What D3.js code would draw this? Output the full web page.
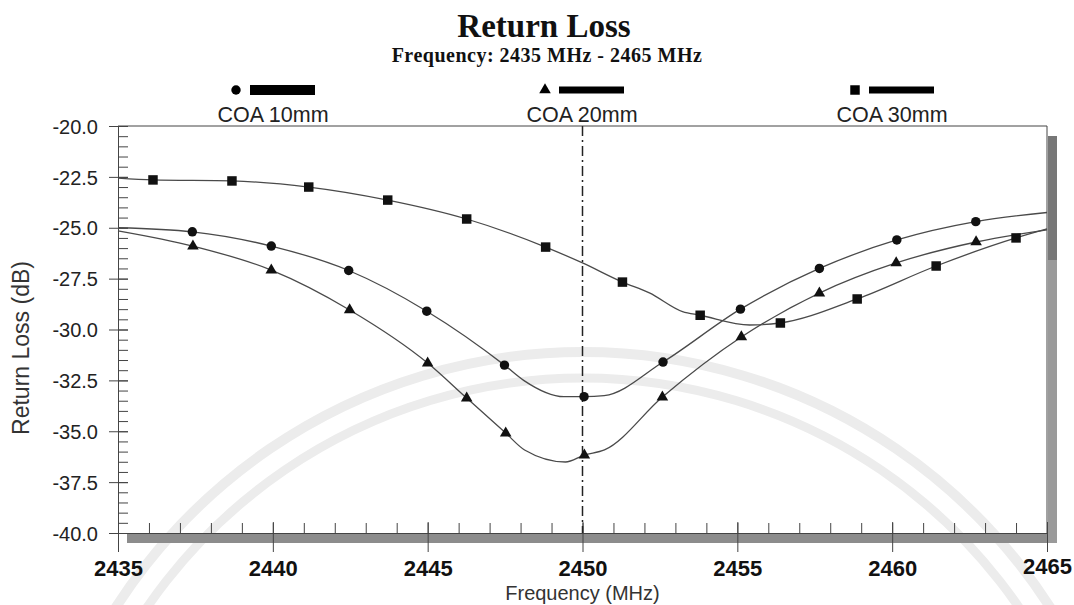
<!DOCTYPE html>
<html>
<head>
<meta charset="utf-8">
<script src="https://cdn.jsdelivr.net/npm/d3@7"></script>
<style>
  body { margin: 0; background: #fff; }
</style>
</head>
<body>
<div id="chart"></div>
<script>
// values
var seriesNames = ["COA 10mm", "COA 20mm", "COA 30mm"];

var coa10Freq = [2435, 2437.4, 2439.95, 2442.45, 2444.97, 2447.48, 2448.1, 2449.4, 2450.05, 2450.7, 2452.6, 2455.1, 2457.65, 2460.15, 2462.7, 2465];
var coa10Loss = [-25.0, -25.2, -25.9, -27.1, -29.1, -31.75, -32.5, -33.3, -33.3, -33.25, -31.6, -29.0, -27.0, -25.6, -24.7, -24.25];
var coa10Mark = [0, 1, 1, 1, 1, 1, 0, 0, 1, 0, 1, 1, 1, 1, 1, 0];

var coa20Freq = [2435, 2437.42, 2439.95, 2442.48, 2445.0, 2446.26, 2447.52, 2448.13, 2449.45, 2450.06, 2450.71, 2452.58, 2455.13, 2457.65, 2460.13, 2462.71, 2465];
var coa20Loss = [-25.15, -25.9, -27.08, -29.04, -31.65, -33.37, -35.09, -35.92, -36.51, -36.17, -35.92, -33.32, -30.37, -28.21, -26.73, -25.7, -25.1];
var coa20Mark = [0, 1, 1, 1, 1, 1, 1, 0, 0, 1, 0, 1, 1, 1, 1, 1, 0];

var coa30Freq = [2435, 2436.13, 2438.68, 2441.16, 2443.71, 2446.26, 2448.81, 2450.0, 2451.29, 2452.16, 2453.23, 2453.8, 2455.4, 2456.39, 2458.87, 2461.42, 2464.0, 2465];
var coa30Loss = [-22.56, -22.65, -22.7, -23.0, -23.64, -24.57, -25.95, -26.73, -27.67, -28.2, -29.12, -29.3, -29.78, -29.68, -28.5, -26.88, -25.5, -25.06];
var coa30Mark = [0, 1, 1, 1, 1, 1, 1, 0, 1, 0, 0, 1, 0, 1, 1, 1, 1, 0];

var xMajor = [2435, 2440, 2445, 2450, 2455, 2460, 2465];
var yMajor = [-20, -22.5, -25, -27.5, -30, -32.5, -35, -37.5, -40];
var markerLine = 2450;

var width = 1074, height = 605;
var plot = { left: 118, right: 1047, top: 126, bottom: 533 };

var svg = d3.select("#chart")
    .append("svg")
    .attr("width", width)
    .attr("height", height)
    .style("font-family", "'Liberation Sans', Arial, sans-serif");

var x = d3.scaleLinear().domain([2435, 2465]).range([plot.left, plot.right]);
var y = d3.scaleLinear().domain([-40, -20]).range([plot.bottom, plot.top]);

// faint watermark arcs in the background
var wm = svg.append("g").attr("fill", "none").attr("stroke", "#ececec");
[[555, 10], [529, 9]].forEach(function (a) {
    wm.append("path")
        .attr("transform", "translate(583,907)")
        .attr("stroke-width", a[1])
        .attr("d", d3.arc()({ innerRadius: a[0], outerRadius: a[0], startAngle: -1.2, endAngle: 1.2 }));
});

// grey drop shadow behind the frame
svg.append("rect")
    .attr("x", plot.left + 9).attr("y", plot.bottom + 1)
    .attr("width", plot.right - plot.left + 1).attr("height", 9)
    .attr("fill", "#8c8c8c");
svg.append("rect")
    .attr("x", plot.right + 1).attr("y", plot.top + 10)
    .attr("width", 9).attr("height", 124)
    .attr("fill", "#777");
svg.append("rect")
    .attr("x", plot.right + 1).attr("y", plot.top + 134)
    .attr("width", 9).attr("height", plot.bottom - plot.top - 124)
    .attr("fill", "#9a9a9a");

// frame: top and right borders
svg.append("line")
    .attr("x1", plot.left).attr("x2", plot.right)
    .attr("y1", plot.top).attr("y2", plot.top)
    .attr("stroke", "#444");
svg.append("line")
    .attr("x1", plot.right).attr("x2", plot.right)
    .attr("y1", plot.top).attr("y2", plot.bottom)
    .attr("stroke", "#444");

// Y axis
var yMinor = d3.range(-40, -19.99, 0.5);
svg.append("g")
    .attr("transform", "translate(" + plot.left + ",0)")
    .call(d3.axisRight(y).tickValues(yMinor).tickSize(10).tickFormat(""))
    .call(g => g.select(".domain").remove())
    .call(g => g.selectAll(".tick line").attr("stroke", "#444"));

var yAxis = svg.append("g")
    .attr("transform", "translate(" + plot.left + ",0)")
    .call(d3.axisLeft(y).tickValues(yMajor).tickSize(9).tickSizeOuter(0)
        .tickFormat(d => d.toFixed(1)));
yAxis.select(".domain").attr("stroke", "#444");
yAxis.selectAll(".tick line").attr("x1", 10).attr("stroke", "#444");
yAxis.selectAll(".tick text")
    .attr("x", -20)
    .attr("dy", "0.36em")
    .style("font-size", "20px")
    .style("font-family", "'Liberation Sans', Arial, sans-serif")
    .attr("fill", "#222");

// X axis
var xMinor = d3.range(2435, 2466, 1);
svg.append("g")
    .attr("transform", "translate(0," + plot.bottom + ")")
    .call(d3.axisTop(x).tickValues(xMinor).tickSize(10).tickFormat(""))
    .call(g => g.select(".domain").remove())
    .call(g => g.selectAll(".tick line").attr("stroke", "#444"));

var xAxis = svg.append("g")
    .attr("transform", "translate(0," + plot.bottom + ")")
    .call(d3.axisBottom(x).tickValues(xMajor).tickSize(19).tickSizeOuter(0)
        .tickFormat(d3.format("d")));
xAxis.select(".domain").attr("stroke", "#444");
xAxis.selectAll(".tick line").attr("y1", -11).attr("stroke", "#444");
xAxis.selectAll(".tick text")
    .attr("y", d => d === 2465 ? 41 : 43)
    .attr("dy", 0)
    .style("font-size", "22px")
    .style("font-weight", "bold")
    .style("font-family", "'Liberation Sans', Arial, sans-serif")
    .attr("fill", "#111");

// axis titles
svg.append("text")
    .attr("x", (plot.left + plot.right) / 2)
    .attr("y", 600)
    .attr("text-anchor", "middle")
    .style("font-size", "20px")
    .attr("fill", "#333")
    .text("Frequency (MHz)");

svg.append("text")
    .attr("transform", "translate(29," + 348 + ") rotate(-90)")
    .attr("text-anchor", "middle")
    .style("font-size", "23px")
    .attr("fill", "#333")
    .text("Return Loss (dB)");

// dash-dot marker line at 2450 MHz
svg.append("line")
    .attr("x1", x(markerLine)).attr("x2", x(markerLine))
    .attr("y1", plot.top).attr("y2", plot.bottom)
    .attr("stroke", "#222")
    .attr("stroke-width", 1.5)
    .attr("stroke-dasharray", "10,4,2,4");

// curves
var series = [
    { name: seriesNames[0], freq: coa10Freq, loss: coa10Loss, mark: coa10Mark, symbol: d3.symbolCircle, size: 70 },
    { name: seriesNames[1], freq: coa20Freq, loss: coa20Loss, mark: coa20Mark, symbol: d3.symbolTriangle, size: 58 },
    { name: seriesNames[2], freq: coa30Freq, loss: coa30Loss, mark: coa30Mark, symbol: d3.symbolSquare, size: 90 }
];

var line = d3.line()
    .x(d => x(d[0]))
    .y(d => y(d[1]))
    .curve(d3.curveMonotoneX);

series.forEach(function (s) {
    var pts = s.freq.map((f, i) => [f, s.loss[i], s.mark[i]]);
    svg.append("path")
        .datum(pts)
        .attr("d", line)
        .attr("fill", "none")
        .attr("stroke", "#4a4a4a")
        .attr("stroke-width", 1.3);
    svg.append("g")
        .selectAll("path")
        .data(pts.filter(p => p[2]))
        .enter()
        .append("path")
        .attr("transform", d => "translate(" + x(d[0]) + "," + y(d[1]) + ")")
        .attr("d", d3.symbol().type(s.symbol).size(s.size))
        .attr("fill", "#111");
});

// legend
var legendX = [236, 545, 855];
var barThick = [10, 7, 7];
series.forEach(function (s, i) {
    var g = svg.append("g");
    g.append("path")
        .attr("transform", "translate(" + legendX[i] + ",90)")
        .attr("d", d3.symbol().type(s.symbol).size(s.size))
        .attr("fill", "#000");
    g.append("rect")
        .attr("x", legendX[i] + 14).attr("y", 90 - barThick[i] / 2)
        .attr("width", 65).attr("height", barThick[i])
        .attr("fill", "#000");
    g.append("text")
        .attr("x", legendX[i] + 37)
        .attr("y", 122)
        .attr("text-anchor", "middle")
        .style("font-size", "21.5px")
        .attr("fill", "#222")
        .text(s.name);
});

// titles
svg.append("text")
    .attr("x", 544)
    .attr("y", 37)
    .attr("text-anchor", "middle")
    .style("font-family", "'Liberation Serif', 'Times New Roman', serif")
    .style("font-weight", "bold")
    .style("font-size", "33px")
    .attr("fill", "#111")
    .text("Return Loss");

svg.append("text")
    .attr("x", 547)
    .attr("y", 62)
    .attr("text-anchor", "middle")
    .style("font-family", "'Liberation Serif', 'Times New Roman', serif")
    .style("font-weight", "bold")
    .style("font-size", "20px")
    .style("letter-spacing", "0.5px")
    .attr("fill", "#111")
    .text("Frequency: 2435 MHz - 2465 MHz");
</script>
</body>
</html>
